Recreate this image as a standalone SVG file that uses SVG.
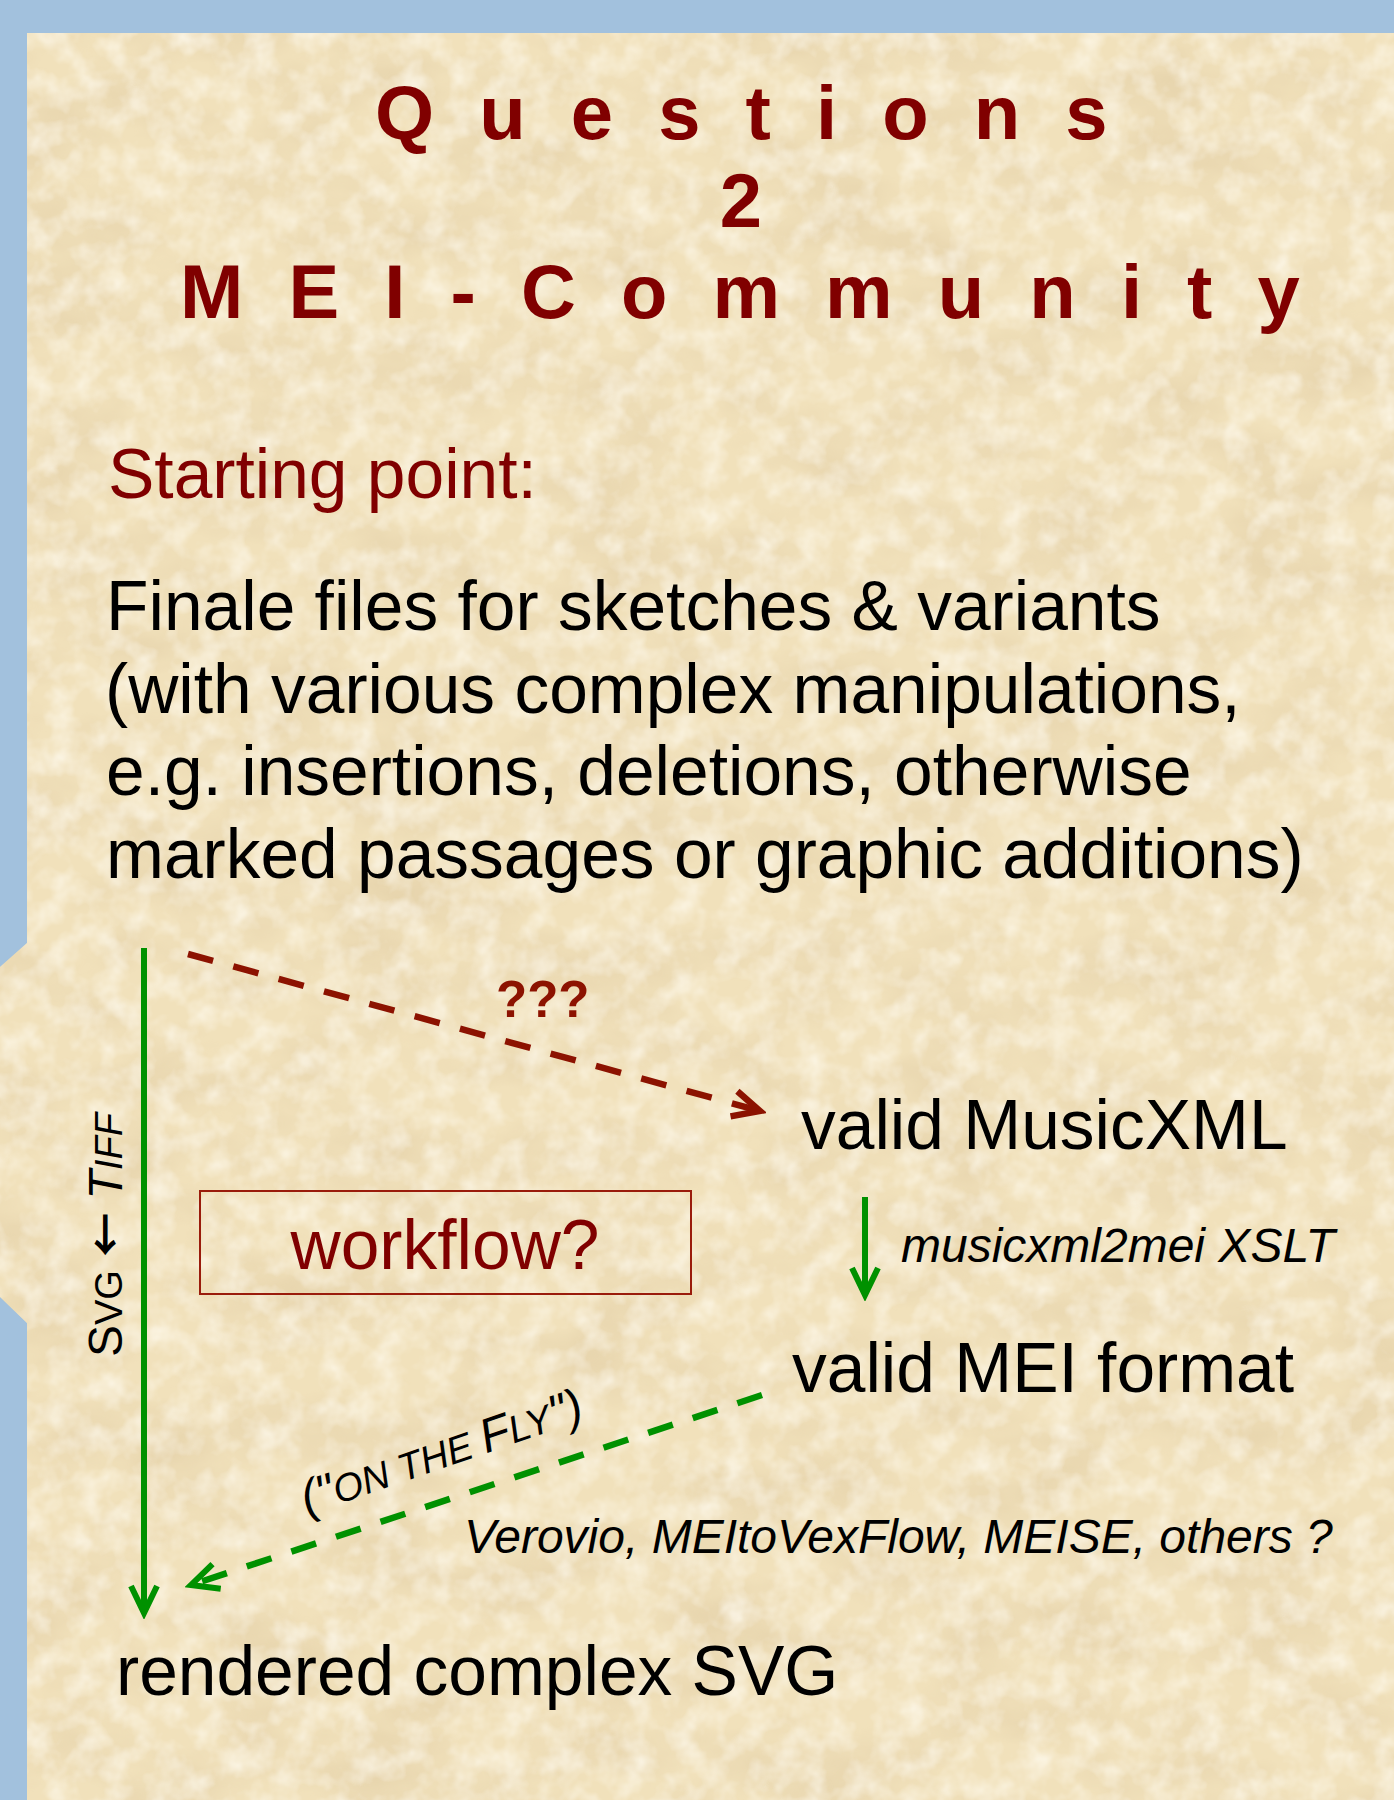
<svg xmlns="http://www.w3.org/2000/svg" width="1394" height="1800" viewBox="0 0 1394 1800">
  <style>
    .sans { font-family: "Liberation Sans", Arial, "DejaVu Sans", sans-serif; }
    .title { font-size: 76px; font-weight: bold; fill: #800000; letter-spacing: 12px; }
    .body { font-size: 69.5px; fill: #000000; }
    .red { fill: #800000; }
    .lab { font-size: 48px; font-style: italic; fill: #000000; }
    .green { stroke: #009100; fill: none; stroke-width: 6; }
    .greendash { stroke: #009100; fill: none; stroke-width: 6.5; stroke-dasharray: 26 21; }
    .reddash { stroke: #8C1200; fill: none; stroke-width: 6.5; stroke-dasharray: 26 21; }
    .arrowglyph { font-family: "Noto Sans CJK SC", "DejaVu Sans", sans-serif; font-size: 44px; font-style: normal; font-weight: bold; }
  </style>
  <defs>
    <filter id="paper" x="0" y="0" width="100%" height="100%" filterUnits="objectBoundingBox">
      <feTurbulence type="fractalNoise" baseFrequency="0.009 0.015" numOctaves="4" seed="7" result="n"/>
      <feColorMatrix in="n" type="matrix" values="0 0 0 0 0.78  0 0 0 0 0.64  0 0 0 0 0.40  1.5 0 0 0 -0.58" result="dark"/>
      <feTurbulence type="fractalNoise" baseFrequency="0.04" numOctaves="3" seed="2" result="n2"/>
      <feColorMatrix in="n2" type="matrix" values="0 0 0 0 1  0 0 0 0 0.97  0 0 0 0 0.88  1.3 0 0 0 -0.5" result="light"/>
      <feMerge>
        <feMergeNode in="dark"/>
        <feMergeNode in="light"/>
      </feMerge>
    </filter>
    <clipPath id="panelClip">
      <path d="M27,33 H1394 V1800 H27 V1323 L0,1297 V967 L27,943 Z"/>
    </clipPath>
    <marker id="arrowGreen" viewBox="-34 -18 40 36" refX="0" refY="0" markerWidth="40" markerHeight="36" markerUnits="userSpaceOnUse" orient="auto">
      <path d="M-27,-13 L0,0 L-27,13" fill="none" stroke="#009100" stroke-width="6" stroke-dasharray="none"/>
    </marker>
    <marker id="arrowRed" viewBox="-34 -18 40 36" refX="0" refY="0" markerWidth="40" markerHeight="36" markerUnits="userSpaceOnUse" orient="auto">
      <path d="M-27,-13 L0,0 L-27,13" fill="none" stroke="#8C1200" stroke-width="6.5" stroke-dasharray="none"/>
    </marker>
  </defs>

  <!-- background -->
  <rect x="0" y="0" width="1394" height="1800" fill="#A2C1DD"/>
  <path d="M27,33 H1394 V1800 H27 V1323 L0,1297 V967 L27,943 Z" fill="#F1E1BB"/>
  <rect x="0" y="33" width="1394" height="1767" filter="url(#paper)" clip-path="url(#panelClip)"/>

  <g id="title" class="sans title">
    <text x="375" y="139">Q u e s t i o n s</text>
    <text x="741" y="227" text-anchor="middle" style="letter-spacing:0">2</text>
    <text x="180" y="318">M E I - C o m m u n i t y</text>
  </g>

  <g id="starting-point" class="sans body">
    <text x="108" y="498" class="red">Starting point:</text>
  </g>

  <g id="finale-files" class="sans body">
    <text x="106" y="630">Finale files for sketches &amp; variants</text>
    <text x="105" y="713">(with various complex manipulations,</text>
    <text x="106" y="795">e.g. insertions, deletions, otherwise</text>
    <text x="106" y="878">marked passages or graphic additions)</text>
  </g>

  <g id="valid-musicxml" class="sans body">
    <text x="801" y="1149">valid MusicXML</text>
  </g>

  <g id="valid-mei" class="sans body">
    <text x="792" y="1392">valid MEI format</text>
  </g>

  <g id="rendered-svg" class="sans body">
    <text x="116" y="1695">rendered complex SVG</text>
  </g>

  <g id="workflow">
    <rect x="200" y="1191" width="491" height="103" fill="none" stroke="#9A1B0B" stroke-width="2"/>
    <text x="445" y="1269" text-anchor="middle" class="sans body red">workflow?</text>
  </g>

  <g id="connectors">
    <line x1="144" y1="948" x2="144" y2="1613" class="green" marker-end="url(#arrowGreen)"/>
    <line x1="865" y1="1197" x2="865" y2="1295" class="green" marker-end="url(#arrowGreen)"/>
    <line x1="188" y1="954" x2="760" y2="1111" class="reddash" marker-end="url(#arrowRed)"/>
    <line x1="762" y1="1395" x2="191" y2="1585" class="greendash" marker-end="url(#arrowGreen)"/>
  </g>

  <g id="edge-labels" class="sans">
    <text x="496" y="1017" font-size="51" font-weight="bold" fill="#8C1200">???</text>
    <text x="901" y="1262" class="lab">musicxml2mei XSLT</text>
    <text x="464" y="1553" class="lab" font-size="49">Verovio, MEItoVexFlow, MEISE, others ?</text>
    <text transform="translate(122,1357) rotate(-90)" font-size="48" fill="#000"><tspan>S</tspan><tspan font-size="38">VG</tspan> <tspan class="arrowglyph">←</tspan> <tspan font-style="italic">T</tspan><tspan font-style="italic" font-size="38">IFF</tspan></text>
    <text transform="translate(307,1515) rotate(-19)" font-size="48" font-style="italic" fill="#000">("<tspan font-size="38.5">ON THE </tspan>F<tspan font-size="38.5">LY</tspan>")</text>
  </g>
</svg>
